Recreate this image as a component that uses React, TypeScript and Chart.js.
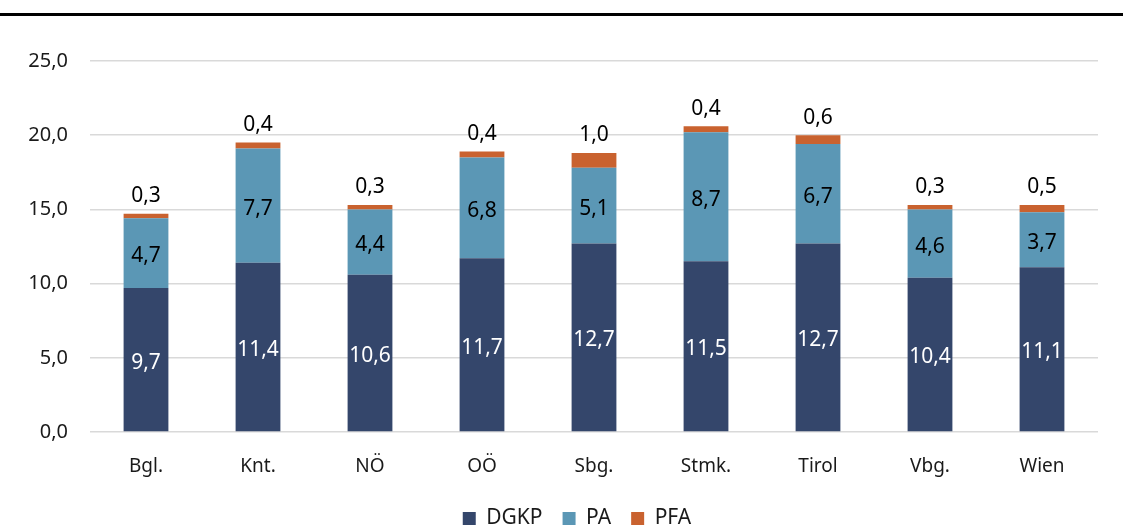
import React, { useEffect, useRef } from 'react';
import { Chart, registerables } from 'chart.js';

Chart.register(...registerables);

const categories = ['Bgl.', 'Knt.', 'NÖ', 'OÖ', 'Sbg.', 'Stmk.', 'Tirol', 'Vbg.', 'Wien'];
const dgkp = [9.7, 11.4, 10.6, 11.7, 12.7, 11.5, 12.7, 10.4, 11.1];
const pa = [4.7, 7.7, 4.4, 6.8, 5.1, 8.7, 6.7, 4.6, 3.7];
const pfa = [0.3, 0.4, 0.3, 0.4, 1.0, 0.4, 0.6, 0.3, 0.5];
const seriesNames = ['DGKP', 'PA', 'PFA'];
const seriesColors = ['#34466B', '#5B97B5', '#C9622F'];
const yMin = 0;
const yMax = 25;
const yStep = 5;

const FONT = '"Noto Sans", "Open Sans", sans-serif';

const fmt = (v: number) => v.toFixed(1).replace('.', ',');

const labelPlugin = {
  id: 'barLabels',
  afterDatasetsDraw(chart: any) {
    const ctx = chart.ctx;
    ctx.save();
    ctx.font = `21px ${FONT}`;
    ctx.textAlign = 'center';
    chart.data.datasets.forEach((ds: any, di: number) => {
      const meta = chart.getDatasetMeta(di);
      meta.data.forEach((bar: any, i: number) => {
        const v = ds.data[i] as number;
        const text = fmt(v);
        const { x, y, base } = bar.getProps(['x', 'y', 'base'], true);
        if (di === 2) {
          ctx.fillStyle = '#000';
          ctx.textBaseline = 'bottom';
          ctx.fillText(text, x, y - 7);
        } else {
          ctx.fillStyle = di === 0 ? '#fff' : '#000';
          ctx.textBaseline = 'middle';
          ctx.fillText(text, x, (y + base) / 2 + 3);
        }
      });
    });
    ctx.restore();
  },
};

const legendShift = {
  id: 'legendShift',
  afterLayout(chart: any) {
    if (chart.legend) {
      chart.legend.left += 18;
      chart.legend.right += 18;
    }
  },
};

export default function App() {
  const ref = useRef<HTMLCanvasElement | null>(null);
  useEffect(() => {
    if (!ref.current) return;
    const data = [dgkp, pa, pfa];
    const chart = new Chart(ref.current, {
      type: 'bar',
      data: {
        labels: categories,
        datasets: seriesNames.map((name, i) => ({
          label: name,
          data: data[i],
          backgroundColor: seriesColors[i],
          borderWidth: 0,
          barPercentage: 0.4,
          categoryPercentage: 1,
        })),
      },
      options: {
        animation: false,
        responsive: false,
        maintainAspectRatio: false,
        layout: { padding: { top: 61, left: 20, right: 25, bottom: -10 } },
        plugins: {
          legend: {
            position: 'bottom',
            labels: {
              boxWidth: 13,
              boxHeight: 13,
              padding: 20,
              color: '#1a1a1a',
              font: { family: FONT, size: 21 },
            },
          },
          tooltip: { enabled: false },
        },
        scales: {
          x: {
            stacked: true,
            grid: { display: false, drawTicks: false },
            border: { display: false },
            ticks: { color: '#1a1a1a', font: { family: FONT, size: 19 }, padding: 23 },
            afterFit: (s: any) => { s.height = 56; },
          },
          y: {
            stacked: true,
            min: yMin,
            max: yMax,
            grid: { color: '#D9D9D9', lineWidth: 1.5, drawTicks: false },
            border: { display: false },
            ticks: {
              stepSize: yStep,
              color: '#1a1a1a',
              font: { family: FONT, size: 20 },
              padding: 22,
              callback: (v: any) => fmt(Number(v)),
            },
            afterFit: (s: any) => { s.width = 70; },
          },
        },
      },
      plugins: [labelPlugin, legendShift],
    } as any);
    return () => chart.destroy();
  }, []);
  return (
    <div style={{ position: 'absolute', left: 0, top: 0, width: 1123, height: 529, background: '#fff' }}>
      <div style={{ position: 'absolute', left: 0, top: 13, width: 1123, height: 3, background: '#000' }} />
      <canvas ref={ref} width={1123} height={529} style={{ position: 'absolute', left: 0, top: 0 }} />
    </div>
  );
}
